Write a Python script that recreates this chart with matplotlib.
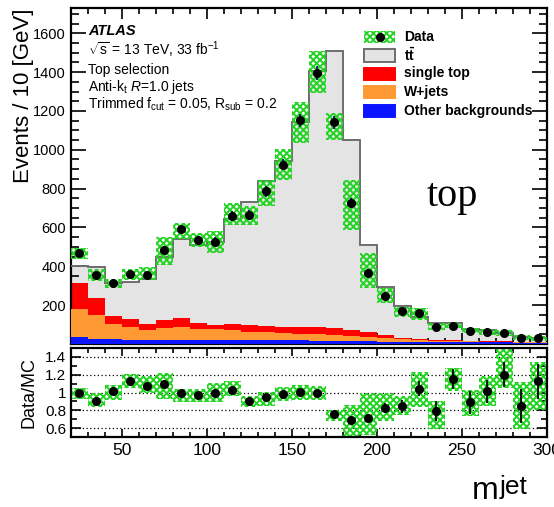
import numpy as np
import matplotlib
matplotlib.use('Agg')
from matplotlib import pyplot as plt
from matplotlib.patches import Rectangle
from matplotlib.lines import Line2D
from matplotlib.ticker import MultipleLocator, FixedLocator

plt.rcParams['font.family'] = ['Liberation Sans', 'DejaVu Sans']
plt.rcParams['mathtext.fontset'] = 'custom'
plt.rcParams['mathtext.rm'] = 'Liberation Sans'
plt.rcParams['mathtext.it'] = 'Liberation Sans:italic'
plt.rcParams['mathtext.bf'] = 'Liberation Sans:bold'
plt.rcParams['hatch.linewidth'] = 1.4

# ======================= data =======================
bin_edges = np.arange(20, 301, 10)

data = [469, 357, 316, 359, 357, 485, 591, 534, 527, 661, 665, 787, 924, 1151,
        1395, 1141, 727, 368, 247, 170, 158, 88, 93, 65, 62, 55, 33, 29]
data_err = [22, 19, 18, 19, 19, 22, 24, 23, 23, 26, 26, 28, 30, 34,
            37, 34, 27, 19, 16, 13, 13, 9, 10, 8, 8, 7, 6, 5]
# hatched uncertainty band in the top panel (low, high)
band_lo = [437, 325, 287, 330, 330, 407, 541, 502, 467, 613, 613, 711, 842, 1034,
           1292, 1052, 588, 287, 210, 141, 124, 72, 81, 55, 46, 41, 21, 17]
band_hi = [496, 386, 337, 386, 398, 550, 625, 570, 584, 728, 708, 842, 1003, 1246,
           1507, 1189, 847, 467, 287, 192, 184, 107, 110, 81, 77, 72, 46, 41]

# stacked MC components
other_bkg = [36, 27, 25, 22, 22, 22, 22, 22, 22, 20, 20, 20, 20, 20,
             18, 18, 16, 14, 12, 10, 10, 9, 9, 8, 8, 8, 7, 7]
wjets = [143, 122, 78, 67, 50, 62, 64, 57, 54, 50, 44, 42, 35, 32,
         34, 28, 25, 20, 18, 14, 10, 9, 7, 6, 4, 3, 2, 1]
single_top = [137, 88, 43, 40, 31, 40, 48, 31, 22, 34, 34, 32, 34, 34,
              37, 35, 31, 26, 16, 9, 6, 4, 4, 4, 4, 3, 3, 2]
ttbar = [88, 157, 167, 189, 230, 323, 406, 400, 429, 542, 632, 743, 851, 1055,
         1315, 1426, 980, 452, 250, 165, 115, 85, 87, 58, 58, 41, 26, 19]

# ratio panel
ratio = [0.99, 0.91, 1.015, 1.13, 1.07, 1.095, 0.99, 0.975, 1.0, 1.025, 0.91, 0.945,
         0.985, 1.007, 0.99, 0.755, 0.69, 0.71, 0.83, 0.845, 1.045, 0.79, 1.15, 0.89,
         1.015, 1.2, 0.85, 1.125]
ratio_err = [0.03, 0.03, 0.035, 0.035, 0.03, 0.035, 0.02, 0.02, 0.03, 0.03, 0.02, 0.025,
             0.02, 0.02, 0.02, 0.02, 0.03, 0.03, 0.055, 0.07, 0.08, 0.11, 0.11, 0.13,
             0.13, 0.14, 0.19, 0.2]
ratio_lo = [0.926, 0.833, 0.915, 1.056, 1.0, 0.926, 0.896, 0.896, 0.89, 0.956, 0.833, 0.85,
            0.907, 0.92, 0.92, 0.685, 0.48, 0.52, 0.685, 0.748, 0.833, 0.585, 1.02, 0.733,
            0.85, 1.056, 0.59, 0.8]
ratio_hi = [1.056, 1.0, 1.085, 1.21, 1.19, 1.22, 1.044, 1.044, 1.11, 1.13, 0.963, 1.01,
            1.063, 1.09, 1.074, 0.807, 0.863, 1.0, 1.0, 0.963, 1.233, 0.907, 1.28, 1.03,
            1.185, 1.49, 1.12, 1.34]

# ======================= style =======================
c_green = '#22d422'
c_grey = '#e4e4e4'
c_outline = '#6e6e6e'
c_red = '#ff0000'
c_orange = '#ff9933'
c_blue = '#0a14ff'

centers = 0.5 * (bin_edges[:-1] + bin_edges[1:])
width = 10

fig = plt.figure(figsize=(5.54, 5.07), dpi=100)
ax = fig.add_axes([0.128, 0.3215, 0.859, 0.6627])
axr = fig.add_axes([0.128, 0.138, 0.859, 0.1755])

# ---- stacked histogram
s1 = np.array(other_bkg)
s2 = s1 + np.array(wjets)
s3 = s2 + np.array(single_top)
s4 = s3 + np.array(ttbar)
ax.stairs(s4, bin_edges, baseline=0, fill=True, color=c_grey, zorder=1)
ax.stairs(s3, bin_edges, baseline=0, fill=True, color=c_red, zorder=2)
ax.stairs(s2, bin_edges, baseline=0, fill=True, color=c_orange, zorder=3)
ax.stairs(s1, bin_edges, baseline=0, fill=True, color=c_blue, zorder=4)
ax.stairs(s4, bin_edges, baseline=None, fill=False, color=c_outline, lw=1.4, zorder=5)

# ---- hatched band + data
band_lo = np.array(band_lo)
band_hi = np.array(band_hi)
ax.bar(centers, band_hi - band_lo, bottom=band_lo, width=width, fill=False,
       hatch='xxxxx', edgecolor=c_green, lw=0, zorder=6)
ax.errorbar(centers, data, yerr=data_err, fmt='o', color='k', ecolor='#101070',
            ms=5.5, elinewidth=1.3, capsize=0, zorder=7)

ax.set_xlim(20, 300)
ax.set_ylim(0, 1730)
ax.yaxis.set_major_locator(FixedLocator(np.arange(200, 1601, 200)))
ax.yaxis.set_minor_locator(MultipleLocator(50))
ax.xaxis.set_major_locator(MultipleLocator(50))
ax.xaxis.set_minor_locator(MultipleLocator(10))
ax.tick_params(axis='x', labelbottom=False)
ax.tick_params(axis='both', which='both', direction='in', top=True, right=True,
               width=1.2, labelsize=10.5, colors='k')
ax.tick_params(axis='y', which='major', length=11)
ax.tick_params(axis='y', which='minor', length=6)
ax.tick_params(axis='x', which='major', length=8)
ax.tick_params(axis='x', which='minor', length=4.5)
ax.set_ylabel('Events / 10 [GeV]', fontsize=16, loc='top', labelpad=2)

# ---- ratio panel
ratio_lo = np.array(ratio_lo)
ratio_hi = np.array(ratio_hi)
for yv in [0.6, 0.8, 1.0, 1.2, 1.4]:
    axr.axhline(yv, color='k', ls=(0, (1, 2)), lw=0.9, zorder=1)
axr.bar(centers, ratio_hi - ratio_lo, bottom=ratio_lo, width=width, fill=False,
        hatch='xxxxx', edgecolor=c_green, lw=0, zorder=2)
axr.errorbar(centers, ratio, yerr=ratio_err, fmt='o', color='k', ecolor='k',
             ms=5.5, elinewidth=1.3, capsize=0, zorder=3)
axr.set_xlim(20, 300)
axr.set_ylim(0.5, 1.5)
axr.yaxis.set_major_locator(FixedLocator([0.6, 0.8, 1.0, 1.2, 1.4]))
axr.yaxis.set_minor_locator(MultipleLocator(0.1))
axr.yaxis.set_major_formatter(lambda v, pos: f'{v:g}')
axr.xaxis.set_major_locator(MultipleLocator(50))
axr.xaxis.set_minor_locator(MultipleLocator(10))
axr.tick_params(axis='both', which='both', direction='in', top=True, right=True,
                width=1.2, colors='k')
axr.tick_params(axis='y', which='major', length=7, labelsize=11)
axr.tick_params(axis='y', which='minor', length=4)
axr.tick_params(axis='x', which='major', length=6, labelsize=12.5, pad=4)
axr.tick_params(axis='x', which='minor', length=3.5)
axr.set_ylabel('Data/MC', fontsize=13, labelpad=1)

for a in (ax, axr):
    for sp in a.spines.values():
        sp.set_linewidth(1.6)
ax.yaxis.set_label_coords(-0.078, 1.0)
axr.yaxis.set_label_coords(-0.071, 0.5)

# ---- ATLAS label block
tx = 88 / 554
fig.text(tx, 1 - 35 / 507, 'ATLAS', fontsize=10.5, weight='bold', style='italic')
fig.text(tx, 1 - 55 / 507, r'$\sqrt{\mathrm{s}}$ = 13 TeV, 33 fb$^{-1}$', fontsize=10)
fig.text(tx, 1 - 74 / 507, 'Top selection', fontsize=10)
fig.text(tx, 1 - 91 / 507, r'Anti-k$_{\mathrm{t}}$ $\mathit{R}$=1.0 jets', fontsize=10)
fig.text(tx, 1 - 109 / 507, r'Trimmed f$_{\mathrm{cut}}$ = 0.05, R$_{\mathrm{sub}}$ = 0.2',
         fontsize=10)

# ---- legend (drawn by hand in figure pixels)
W, H = 554, 507
leg_labels = ['Data', r'$\mathbf{t\bar{t}}$', 'single top', 'W+jets', 'Other backgrounds']
leg_y = [37, 55.5, 73.5, 92, 110.5]
bx0, bw, bh = 364, 31, 12
for lab, yc in zip(leg_labels, leg_y):
    rect_xy = (bx0 / W, 1 - (yc + bh / 2) / H)
    if lab == 'Data':
        fig.patches.append(Rectangle(rect_xy, bw / W, bh / H, transform=fig.transFigure,
                                     fill=False, hatch='xxxxx', edgecolor=c_green, lw=0))
        fig.lines.append(Line2D([(bx0 + bw / 2) / W], [1 - yc / H], marker='o', color='k',
                                ms=5.5, transform=fig.transFigure))
    else:
        fc = {'single top': c_red, 'W+jets': c_orange, 'Other backgrounds': c_blue}.get(lab, c_grey)
        ec = c_outline if fc == c_grey else fc
        fig.patches.append(Rectangle(rect_xy, bw / W, bh / H, transform=fig.transFigure,
                                     facecolor=fc, edgecolor=ec, lw=1.4))
    fig.text((bx0 + bw + 9) / W, 1 - yc / H, lab, fontsize=10, weight='bold', va='center')

# ---- free texts
fig.text(427 / W, 1 - 206 / H, 'top', fontsize=29, family='Liberation Serif', va='baseline')
fig.text(472 / W, 1 - 499 / H, 'm', fontsize=23, va='baseline')
fig.text(500 / W, 1 - 494 / H, 'jet', fontsize=19, va='baseline')

fig.savefig('out.png', dpi=100)
